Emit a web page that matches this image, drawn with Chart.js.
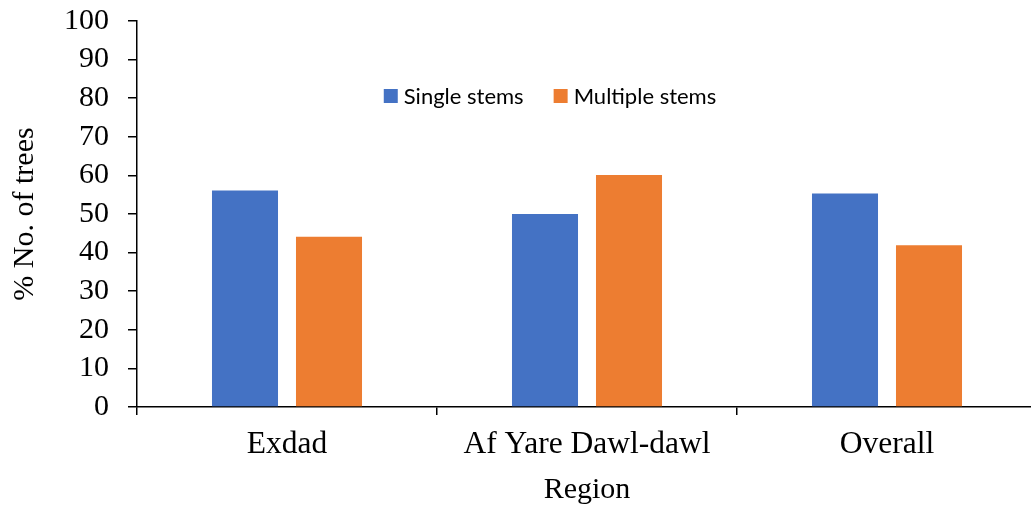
<!DOCTYPE html>
<html>
<head>
<meta charset="utf-8">
<script src="https://cdn.jsdelivr.net/npm/chart.js@4"></script>
<style>
html,body{margin:0;padding:0;background:#fff;overflow:hidden;}
#wrap{width:1040px;height:505px;position:relative;}
</style>
</head>
<body>
<div id="wrap"><canvas id="c" width="1040" height="505"></canvas></div>
<script>
const categories = ["Exdad", "Af Yare Dawl-dawl", "Overall"];
const singleStems = [56.1, 50.0, 55.3];
const multipleStems = [44.1, 60.1, 41.9];
const seriesNames = ["Single stems", "Multiple stems"];
const yTicks = [0, 10, 20, 30, 40, 50, 60, 70, 80, 90, 100];

const serif = "'Liberation Serif', 'Times New Roman', serif";

const legendPlugin = {
  id: 'innerLegend',
  afterDraw(chart) {
    const ctx = chart.ctx;
    ctx.save();
    ctx.font = "22px Lato, 'Liberation Sans', sans-serif";
    ctx.textBaseline = 'middle';
    const box = 14, gapText = 6, gapItem = 30;
    const items = chart.data.datasets.map(d => ({label: d.label, color: d.backgroundColor, w: ctx.measureText(d.label).width}));
    let total = 0;
    items.forEach((it, i) => { total += box + gapText + it.w + (i < items.length - 1 ? gapItem : 0); });
    let x = 550 - total / 2;
    const y = 96;
    items.forEach(it => {
      ctx.fillStyle = it.color;
      ctx.fillRect(x, y - box / 2, box, box);
      ctx.fillStyle = '#000';
      ctx.fillText(it.label, x + box + gapText, y + 1);
      x += box + gapText + it.w + gapItem;
    });
    ctx.restore();
  }
};

new Chart(document.getElementById('c'), {
  type: 'bar',
  data: {
    labels: categories,
    datasets: [
      {label: seriesNames[0], data: singleStems, backgroundColor: '#4472C4', categoryPercentage: 0.56, barPercentage: 0.786},
      {label: seriesNames[1], data: multipleStems, backgroundColor: '#ED7D31', categoryPercentage: 0.56, barPercentage: 0.786}
    ]
  },
  options: {
    responsive: false,
    animation: false,
    layout: {padding: {top: 21, right: 3, left: 0, bottom: 0}},
    plugins: {legend: {display: false}, tooltip: {enabled: false}},
    scales: {
      x: {
        grid: {display: true, offset: true, drawOnChartArea: false, drawTicks: true, tickLength: 8, color: '#000', lineWidth: 1.5},
        border: {display: true, color: '#000', width: 1.5},
        ticks: {color: '#000', font: {family: serif, size: 31.5}, padding: 11, maxRotation: 0, autoSkip: false},
        title: {display: true, text: 'Region', color: '#000', font: {family: serif, size: 30, lineHeight: 1.0}, padding: {top: 0, bottom: 0}},
        afterFit(s) { s.height = 98; s.paddingLeft = 0; s.paddingRight = 0; }
      },
      y: {
        min: 0, max: 100,
        afterBuildTicks(s) { s.ticks = yTicks.map(v => ({value: v})); },
        grid: {display: true, drawOnChartArea: false, drawTicks: true, tickLength: 9, color: '#000', lineWidth: 1.5},
        border: {display: true, color: '#000', width: 1.5},
        ticks: {color: '#000', font: {family: serif, size: 30}, padding: 19, autoSkip: false},
        title: {display: true, text: '% No. of trees', color: '#000', font: {family: serif, size: 30}, padding: {top: 7, bottom: 0}},
        afterFit(s) { s.width = 137; s.paddingTop = 0; s.paddingBottom = 0; }
      }
    }
  },
  plugins: [legendPlugin]
});
</script>
</body>
</html>
